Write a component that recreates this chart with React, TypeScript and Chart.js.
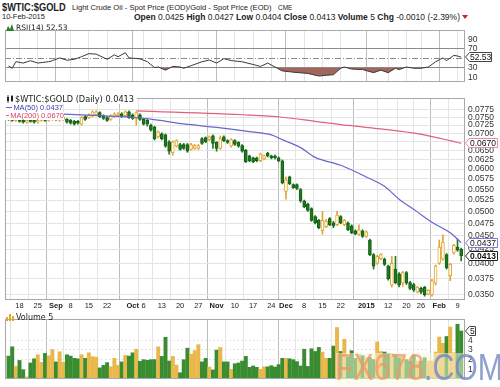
import React, { useEffect, useRef } from "react";
import { Chart, registerables } from "chart.js";

Chart.register(...registerables);

// ---------------- data ----------------
// trading-day index of the first bar (Aug 18, 2014 = day 0)
const FIRST_DAY = -3;

const OPEN = [
  0.0749, 0.0746, 0.0740, 0.0746, 0.0740, 0.0734, 0.0740, 0.0740, 0.0734, 0.0740,
  0.0746, 0.0740, 0.0743, 0.0749, 0.0740, 0.0743, 0.0743, 0.0740, 0.0737, 0.0737,
  0.0728, 0.0752, 0.0749, 0.0755, 0.0758, 0.0765, 0.0755, 0.0749, 0.0743, 0.0752,
  0.0755, 0.0761, 0.0755, 0.0768, 0.0758, 0.0746, 0.0758, 0.0743, 0.0740, 0.0725,
  0.0719, 0.0689, 0.0698, 0.0695, 0.0675, 0.0643, 0.0662, 0.0667, 0.0667, 0.0667,
  0.0653, 0.0656, 0.0656, 0.0684, 0.0687, 0.0681, 0.0692, 0.0673, 0.0656, 0.0689,
  0.0678, 0.0662, 0.0678, 0.0673, 0.0664, 0.0651, 0.0635, 0.0630, 0.0630, 0.0622,
  0.0627, 0.0643, 0.0635, 0.0635, 0.0630, 0.0622, 0.0545, 0.0580, 0.0561, 0.0561,
  0.0549, 0.0523, 0.0516, 0.0506, 0.0489, 0.0481, 0.0460, 0.0468, 0.0485, 0.0476,
  0.0472, 0.0489, 0.0472, 0.0476, 0.0470, 0.0460, 0.0453, 0.0460, 0.0449, 0.0442,
  0.0415, 0.0400, 0.0408, 0.0407, 0.0395, 0.0364, 0.0390, 0.0382, 0.0367, 0.0384,
  0.0368, 0.0365, 0.0353, 0.0359, 0.0361, 0.0350, 0.0349, 0.0367, 0.0400, 0.0407,
  0.0415, 0.0379, 0.0418, 0.0429, 0.0425,
];
const HIGH = [
  0.0752, 0.0749, 0.0749, 0.0749, 0.0743, 0.0743, 0.0743, 0.0743, 0.0743, 0.0749,
  0.0749, 0.0746, 0.0752, 0.0752, 0.0746, 0.0752, 0.0746, 0.0743, 0.0740, 0.0740,
  0.0752, 0.0755, 0.0761, 0.0771, 0.0771, 0.0768, 0.0758, 0.0752, 0.0758, 0.0765,
  0.0765, 0.0765, 0.0771, 0.0771, 0.0761, 0.0768, 0.0761, 0.0746, 0.0743, 0.0728,
  0.0722, 0.0707, 0.0701, 0.0698, 0.0678, 0.0678, 0.0681, 0.0670, 0.0670, 0.0670,
  0.0670, 0.0667, 0.0667, 0.0687, 0.0689, 0.0692, 0.0695, 0.0675, 0.0692, 0.0692,
  0.0681, 0.0684, 0.0681, 0.0675, 0.0667, 0.0653, 0.0637, 0.0632, 0.0632, 0.0643,
  0.0637, 0.0645, 0.0637, 0.0637, 0.0632, 0.0624, 0.0580, 0.0582, 0.0563, 0.0563,
  0.0552, 0.0525, 0.0518, 0.0508, 0.0491, 0.0483, 0.0500, 0.0483, 0.0487, 0.0479,
  0.0500, 0.0491, 0.0483, 0.0478, 0.0472, 0.0462, 0.0472, 0.0462, 0.0460, 0.0444,
  0.0417, 0.0414, 0.0417, 0.0409, 0.0397, 0.0412, 0.0412, 0.0384, 0.0386, 0.0386,
  0.0370, 0.0367, 0.0362, 0.0361, 0.0362, 0.0357, 0.0373, 0.0397, 0.0442, 0.0452,
  0.0417, 0.0400, 0.0434, 0.0444, 0.0427,
];
const LOW = [
  0.0740, 0.0737, 0.0737, 0.0734, 0.0731, 0.0731, 0.0734, 0.0731, 0.0731, 0.0737,
  0.0737, 0.0737, 0.0740, 0.0740, 0.0737, 0.0740, 0.0731, 0.0728, 0.0725, 0.0728,
  0.0725, 0.0740, 0.0746, 0.0752, 0.0755, 0.0749, 0.0743, 0.0737, 0.0740, 0.0749,
  0.0752, 0.0749, 0.0752, 0.0746, 0.0743, 0.0725, 0.0740, 0.0725, 0.0722, 0.0706,
  0.0680, 0.0686, 0.0680, 0.0659, 0.0640, 0.0637, 0.0659, 0.0651, 0.0653, 0.0645,
  0.0651, 0.0653, 0.0653, 0.0667, 0.0672, 0.0678, 0.0656, 0.0648, 0.0653, 0.0675,
  0.0670, 0.0659, 0.0664, 0.0659, 0.0645, 0.0617, 0.0619, 0.0617, 0.0619, 0.0619,
  0.0624, 0.0632, 0.0627, 0.0627, 0.0619, 0.0563, 0.0527, 0.0561, 0.0552, 0.0549,
  0.0520, 0.0508, 0.0500, 0.0479, 0.0474, 0.0464, 0.0453, 0.0466, 0.0470, 0.0466,
  0.0470, 0.0474, 0.0470, 0.0460, 0.0454, 0.0452, 0.0451, 0.0447, 0.0447, 0.0413,
  0.0390, 0.0398, 0.0406, 0.0396, 0.0372, 0.0361, 0.0366, 0.0361, 0.0362, 0.0365,
  0.0357, 0.0354, 0.0352, 0.0351, 0.0347, 0.0349, 0.0347, 0.0364, 0.0398, 0.0405,
  0.0390, 0.0371, 0.0416, 0.0421, 0.0404,
];
const CLOSE = [
  0.0743, 0.0740, 0.0746, 0.0737, 0.0734, 0.0740, 0.0737, 0.0734, 0.0740, 0.0746,
  0.0740, 0.0743, 0.0749, 0.0743, 0.0743, 0.0749, 0.0734, 0.0731, 0.0728, 0.0731,
  0.0749, 0.0743, 0.0758, 0.0768, 0.0768, 0.0752, 0.0746, 0.0740, 0.0755, 0.0761,
  0.0761, 0.0752, 0.0768, 0.0749, 0.0746, 0.0765, 0.0743, 0.0728, 0.0728, 0.0710,
  0.0684, 0.0704, 0.0684, 0.0662, 0.0648, 0.0675, 0.0678, 0.0653, 0.0656, 0.0648,
  0.0667, 0.0664, 0.0664, 0.0670, 0.0675, 0.0689, 0.0670, 0.0656, 0.0684, 0.0678,
  0.0673, 0.0681, 0.0667, 0.0662, 0.0648, 0.0619, 0.0622, 0.0619, 0.0622, 0.0640,
  0.0635, 0.0635, 0.0630, 0.0630, 0.0622, 0.0565, 0.0573, 0.0563, 0.0554, 0.0552,
  0.0523, 0.0510, 0.0502, 0.0481, 0.0476, 0.0466, 0.0481, 0.0479, 0.0472, 0.0470,
  0.0492, 0.0476, 0.0481, 0.0462, 0.0456, 0.0454, 0.0462, 0.0449, 0.0458, 0.0415,
  0.0395, 0.0412, 0.0415, 0.0398, 0.0374, 0.0400, 0.0368, 0.0364, 0.0384, 0.0367,
  0.0359, 0.0356, 0.0361, 0.0353, 0.0349, 0.0356, 0.0371, 0.0395, 0.0429, 0.0438,
  0.0392, 0.0398, 0.0432, 0.0423, 0.0413,
];
const VOLUME = [
  2.36, 3.32, 1.29, 1.91, 0.95, 0.21, 1.65, 2.08, 2.5, 1.71,
  2.64, 2.39, 3.03, 1.76, 2.81, 1.71, 2.5, 2.36, 2.13, 2.08,
  2.5, 2.13, 2.7, 2.3, 2.25, 1.14, 1.4, 1.68, 1.25, 2.13,
  1.4, 1.76, 2.44, 2.36, 2.7, 3.07, 1.82, 1.99, 1.93, 1.99,
  2.0, 3.32, 2.33, 4.31, 1.85, 2.33, 1.43, 0.64, 1.99, 3.18,
  2.56, 2.92, 3.54, 1.76, 2.13, 1.23, 0.92, 2.98, 3.26, 1.76,
  1.76, 1.0, 1.57, 1.65, 1.85, 2.33, 1.2, 1.34, 1.2, 1.0,
  1.25, 1.25, 1.37, 1.23, 1.48, 2.13, 2.13, 2.08, 1.99, 1.79,
  1.34, 3.07, 1.29, 3.12, 2.84, 3.26, 2.78, 2.13, 2.13, 3.4,
  5.32, 2.84, 4.1, 2.27, 2.92, 2.13, 2.56, 2.4, 2.2, 2.2,
  2.0, 3.83, 2.84, 2.78, 2.61, 2.61, 2.5, 2.2, 2.3, 2.0,
  1.85, 2.5, 1.85, 1.85, 2.2, 1.85, 1.85, 2.78, 4.34, 3.69,
  4.39, 5.38, 2.7, 5.66, 4.96,
];

const RSI_DAY = [
  -3, -2, -1, 1, 3, 5, 8, 9, 11, 13, 15, 17, 19, 21, 24, 26, 27, 29, 30, 33,
  35, 37, 38, 40, 42, 44, 45, 47, 49, 50, 52, 54, 56, 58, 61, 64, 66, 68, 70, 72,
  75, 79, 82, 84, 86, 88, 89, 91, 94, 97, 99, 101, 103, 104, 106, 108, 110, 112, 114, 116,
  117, 119, 120, 121,
];
const RSI_VALUE = [
  34, 29, 43, 40, 45, 40, 43, 45, 51, 46, 48, 53.5, 60, 59, 48, 57.5, 53.5, 62, 51, 49,
  43, 30.5, 31.6, 25, 33, 31.6, 29, 34.4, 40, 42.7, 46.5, 40, 49.3, 45.3, 42.7, 37, 32.8, 40, 31.6, 23.4,
  20.6, 18, 12.4, 14, 15.2, 29, 31.6, 27.2, 26.2, 19.6, 25, 19.6, 29, 26.2, 31.6, 29, 29, 31.6, 42.7, 51,
  45.3, 56.3, 55, 52.53,
];

const MA50_DAY = [12, 22, 31, 36, 45, 54, 63, 69, 72, 77, 81, 88, 95, 100, 104, 109, 113, 118, 121];
const MA50_VALUE = [
  0.0760, 0.0755, 0.0750, 0.0744, 0.0729, 0.0718, 0.0705, 0.0695, 0.0681, 0.0658,
  0.0631, 0.0610, 0.0580, 0.0557, 0.0527, 0.0499, 0.0477, 0.0456, 0.0437,
];
const MA200_DAY = [32, 63, 72, 81, 90, 100, 109, 118, 121];
const MA200_VALUE = [0.0771, 0.0757, 0.0750, 0.0737, 0.0724, 0.0712, 0.0699, 0.0678, 0.0670];

const DATE_TICK_DAY = [0, 5, 10, 14, 19, 24, 31, 34, 39, 44, 49, 54, 59, 64, 69, 73, 78, 83, 88, 95, 101, 106, 110, 115, 120];
const DATE_TICK_LABEL = ["18", "25", "Sep", "8", "15", "22", "Oct", "6", "13", "20", "27", "Nov", "10", "17", "24", "Dec", "8", "15", "22", "2015", "12", "20", "26", "Feb", "9"];
const MONTH_LABELS = ["Sep", "Oct", "Nov", "Dec", "2015", "Feb"];

const PRICE_TICKS = [
  0.035, 0.0375, 0.04, 0.0425, 0.045, 0.0475, 0.05, 0.0525, 0.055, 0.0575,
  0.06, 0.0625, 0.065, 0.0675, 0.07, 0.0725, 0.075, 0.0775,
];
const RSI_TICKS = [10, 30, 70, 90];
const VOLUME_TICKS = [1, 2, 3, 4];

// ---------------- axis limits / styles ----------------
const X_MIN = -3.97;
const X_MAX = 122.05;
const PRICE_MIN = 0.03414;
const PRICE_MAX = 0.08145;
const RSI_MIN = 0;
const RSI_MAX = 110;
const VOL_MAX = 6.19;

const AXIS_W = 35;
const FONT_TEXT = '"Liberation Sans", Arial, sans-serif';
const FONT_WIDE = '"DejaVu Sans", Verdana, sans-serif';
const GRID = "#e4e4e4";
const GRID_MONTH = "#bcbcbc";
const FRAME = "#a8a8a8";
const CANDLE_UP = "#e2a52e";
const CANDLE_DOWN = "#1f7b1f";
const CANDLE_DOWN_EDGE = "#155f15";
const VOL_UP = "#e8b84b";
const VOL_DOWN = "#3a8c31";
const MA50_COLOR = "#6767cc";
const MA200_COLOR = "#e2607c";

const DAYS = OPEN.map((_, k) => FIRST_DAY + k);
const isUp = (k: number) => CLOSE[k] >= OPEN[k];

function xAxis(showLabels: boolean): any {
  return {
    type: "linear",
    min: X_MIN,
    max: X_MAX,
    offset: false,
    bounds: "data",
    afterBuildTicks: (s: any) => {
      s.ticks = DATE_TICK_DAY.map((v) => ({ value: v }));
    },
    afterFit: (s: any) => {
      s.height = showLabels ? 11 : 0;
    },
    grid: {
      color: (c: any) => {
        const lbl = DATE_TICK_LABEL[c.index];
        return MONTH_LABELS.includes(lbl) ? GRID_MONTH : GRID;
      },
      drawTicks: false,
      lineWidth: 1,
    },
    border: { display: false },
    ticks: {
      display: showLabels,
      autoSkip: false,
      maxRotation: 0,
      minRotation: 0,
      padding: 1,
      color: "#222",
      callback: (_v: any, i: number) => DATE_TICK_LABEL[i],
      font: (c: any) => ({
        family: FONT_TEXT,
        size: 7.5,
        weight: MONTH_LABELS.includes(DATE_TICK_LABEL[c.index]) ? "bold" : "normal",
      }),
    },
  };
}

function yAxisBase(ticks: number[], fmt: (v: number) => string, gridColor: any, dash?: number[]): any {
  return {
    position: "right",
    bounds: "data",
    afterBuildTicks: (s: any) => {
      s.ticks = ticks.map((v) => ({ value: v }));
    },
    afterFit: (s: any) => {
      s.width = AXIS_W;
    },
    grid: { color: gridColor, drawTicks: false, lineWidth: 1 },
    border: { display: false, dash: dash || [] },
    ticks: {
      autoSkip: false,
      padding: 3,
      color: "#333",
      font: { family: FONT_TEXT, size: 8.5 },
      callback: (v: any) => fmt(Number(v)),
    },
  };
}

const framePlugin = {
  id: "frame",
  afterDraw(chart: any) {
    const { ctx, chartArea: a } = chart;
    ctx.save();
    ctx.strokeStyle = FRAME;
    ctx.lineWidth = 1;
    const l = Math.round(a.left) + 0.5;
    const r = Math.round(a.right) - 0.5;
    const t = Math.round(a.top) + 0.5;
    const b = Math.round(a.bottom) - 0.5;
    ctx.strokeRect(l, t, r - l, b - t);
    ctx.restore();
  },
};

type Tag = { value: number; text: string; color: string; bold?: boolean; width: number };

function tagPlugin(tags: Tag[]) {
  return {
    id: "tags",
    afterDraw(chart: any) {
      const { ctx } = chart;
      const ys = chart.scales.y;
      const x0 = Math.round(chart.chartArea.right);
      ctx.save();
      for (const t of tags) {
        const y = Math.round(ys.getPixelForValue(t.value));
        const h = 4.5;
        ctx.beginPath();
        ctx.moveTo(x0 + 0.5, y);
        ctx.lineTo(x0 + 4.5, y - h);
        ctx.lineTo(x0 + t.width + 0.5, y - h);
        ctx.lineTo(x0 + t.width + 0.5, y + h);
        ctx.lineTo(x0 + 4.5, y + h);
        ctx.closePath();
        ctx.fillStyle = "#ffffff";
        ctx.fill();
        ctx.strokeStyle = t.color;
        ctx.lineWidth = 1;
        ctx.stroke();
        ctx.fillStyle = "#111";
        ctx.font = `${t.bold ? "bold " : ""}8.5px ${FONT_TEXT}`;
        ctx.textAlign = "left";
        ctx.textBaseline = "middle";
        ctx.fillText(t.text, x0 + 5, y + 0.5);
      }
      ctx.restore();
    },
  };
}

const rsiMidPlugin = {
  id: "rsiMid",
  beforeDatasetsDraw(chart: any) {
    const { ctx, chartArea: a } = chart;
    const y = Math.round(chart.scales.y.getPixelForValue(50)) + 0.5;
    ctx.save();
    ctx.strokeStyle = "#8a8a8a";
    ctx.lineWidth = 1;
    ctx.setLineDash([6, 2, 1, 2]);
    ctx.beginPath();
    ctx.moveTo(a.left, y);
    ctx.lineTo(a.right, y);
    ctx.stroke();
    ctx.restore();
  },
};

const baseOptions = {
  responsive: false,
  maintainAspectRatio: false,
  animation: false as const,
  events: [] as any[],
  plugins: { legend: { display: false }, tooltip: { enabled: false } },
};

export default function App() {
  const rsiRef = useRef<HTMLCanvasElement | null>(null);
  const priceRef = useRef<HTMLCanvasElement | null>(null);
  const volRef = useRef<HTMLCanvasElement | null>(null);

  useEffect(() => {
    const charts: Chart[] = [];
    const lastRsi = RSI_VALUE[RSI_VALUE.length - 1];
    const lastK = CLOSE.length - 1;

    charts.push(
      new Chart(rsiRef.current as HTMLCanvasElement, {
        type: "line",
        data: {
          datasets: [
            {
              data: RSI_DAY.map((d, k) => ({ x: d, y: RSI_VALUE[k] })),
              borderColor: "#3a3a3a",
              borderWidth: 1,
              pointRadius: 0,
              tension: 0,
              fill: { target: { value: 30 }, above: "rgba(0,0,0,0)", below: "#a3665e" },
            } as any,
          ],
        },
        options: {
          ...baseOptions,
          layout: { padding: { left: 5, right: 0, top: 0, bottom: 0 } },
          scales: {
            x: xAxis(false),
            y: {
              type: "linear",
              min: RSI_MIN,
              max: RSI_MAX,
              ...yAxisBase(RSI_TICKS, (v) => String(v), (c: any) =>
                c.tick && (c.tick.value === 70 || c.tick.value === 30) ? "#8c8c8c" : "rgba(0,0,0,0)"
              ),
            },
          },
        } as any,
        plugins: [
          rsiMidPlugin,
          framePlugin,
          tagPlugin([{ value: lastRsi, text: lastRsi.toFixed(2), color: "#444", width: 26 }]),
        ],
      })
    );

    charts.push(
      new Chart(priceRef.current as HTMLCanvasElement, {
        type: "bar",
        data: {
          datasets: [
            {
              type: "line",
              data: MA50_DAY.map((d, k) => ({ x: d, y: MA50_VALUE[k] })),
              borderColor: MA50_COLOR,
              borderWidth: 1.2,
              pointRadius: 0,
              cubicInterpolationMode: "monotone",
            },
            {
              type: "line",
              data: MA200_DAY.map((d, k) => ({ x: d, y: MA200_VALUE[k] })),
              borderColor: MA200_COLOR,
              borderWidth: 1.2,
              pointRadius: 0,
              cubicInterpolationMode: "monotone",
            },
            {
              type: "bar",
              data: DAYS.map((d, k) => ({ x: d, y: [OPEN[k], CLOSE[k]] })),
              backgroundColor: DAYS.map((_, k) => (isUp(k) ? "#ffffff" : CANDLE_DOWN)),
              borderColor: DAYS.map((_, k) => (isUp(k) ? CANDLE_UP : CANDLE_DOWN_EDGE)),
              borderWidth: 1,
              borderSkipped: false,
              barThickness: 3,
              grouped: false,
              minBarLength: 1,
            },
            {
              type: "bar",
              data: DAYS.map((d, k) => ({ x: d, y: [LOW[k], HIGH[k]] })),
              backgroundColor: DAYS.map((_, k) => (isUp(k) ? CANDLE_UP : CANDLE_DOWN)),
              borderWidth: 0,
              barThickness: 1,
              grouped: false,
            },
          ] as any,
        },
        options: {
          ...baseOptions,
          layout: { padding: { left: 5, right: 0, top: 0, bottom: 0 } },
          scales: {
            x: xAxis(true),
            y: {
              type: "logarithmic",
              min: PRICE_MIN,
              max: PRICE_MAX,
              ...yAxisBase(PRICE_TICKS, (v) => v.toFixed(4), GRID),
            },
          },
        } as any,
        plugins: [
          framePlugin,
          tagPlugin([
            { value: MA200_VALUE[MA200_VALUE.length - 1], text: MA200_VALUE[MA200_VALUE.length - 1].toFixed(4), color: "#e88aa0", width: 32 },
            { value: MA50_VALUE[MA50_VALUE.length - 1], text: MA50_VALUE[MA50_VALUE.length - 1].toFixed(4), color: "#7a7ad6", width: 32 },
            { value: CLOSE[lastK], text: CLOSE[lastK].toFixed(4), color: "#222", bold: true, width: 32 },
          ]),
        ],
      })
    );

    charts.push(
      new Chart(volRef.current as HTMLCanvasElement, {
        type: "bar",
        data: {
          datasets: [
            {
              data: DAYS.map((d, k) => ({ x: d, y: VOLUME[k] })),
              backgroundColor: DAYS.map((_, k) => (isUp(k) ? VOL_UP : VOL_DOWN)),
              borderWidth: 0,
              barThickness: 3.3,
              grouped: false,
            } as any,
          ],
        },
        options: {
          ...baseOptions,
          layout: { padding: { left: 5, right: 0, top: 0, bottom: 3 } },
          scales: {
            x: xAxis(false),
            y: {
              type: "linear",
              min: 0,
              max: VOL_MAX,
              ...yAxisBase(VOLUME_TICKS, (v) => String(v), GRID, [2, 2]),
            },
          },
        } as any,
        plugins: [
          framePlugin,
          tagPlugin([{ value: VOLUME[lastK], text: String(Math.round(VOLUME[lastK])), color: "#444", width: 10 }]),
        ],
      })
    );

    return () => charts.forEach((c) => c.destroy());
  }, []);

  const abs = (o: any): any => ({ position: "absolute", whiteSpace: "nowrap", ...o });
  const lastK = CLOSE.length - 1;

  return (
    <div
      style={{
        position: "absolute",
        left: 0,
        top: 0,
        width: 500,
        height: 387,
        background: "#ffffff",
        overflow: "hidden",
        fontFamily: FONT_TEXT,
        color: "#222",
      }}
    >
      {/* header */}
      <div style={abs({ left: 2, top: 1, fontSize: 11, lineHeight: "12px", fontWeight: "bold", transform: "scaleX(0.84)", transformOrigin: "left center" })}>
        $WTIC:$GOLD
      </div>
      <div style={abs({ left: 72, top: 2, fontSize: 7.6, lineHeight: "11px" })}>
        Light Crude Oil - Spot Price (EOD)/Gold - Spot Price (EOD)
      </div>
      <div style={abs({ left: 278, top: 3, fontSize: 6.5, lineHeight: "10px" })}>CME</div>
      <div style={abs({ left: 2, top: 12, fontSize: 7.5, lineHeight: "10px" })}>10-Feb-2015</div>
      <div style={abs({ right: 40, top: 12, fontSize: 8.5, lineHeight: "10px" })}>
        <b>Open</b> {OPEN[lastK].toFixed(4)} <b>High</b> {HIGH[lastK].toFixed(4)} <b>Low</b> {LOW[lastK].toFixed(4)}{" "}
        <b>Close</b> {CLOSE[lastK].toFixed(4)} <b>Volume</b> {Math.round(VOLUME[lastK])} <b>Chg</b> -0.0010 (-2.39%)
      </div>
      <div style={abs({ left: 462, top: 15, width: 0, height: 0, borderLeft: "3px solid transparent", borderRight: "3px solid transparent", borderTop: "4px solid #d02020" })} />

      <canvas ref={rsiRef} width={500} height={68} style={{ position: "absolute", left: 0, top: 22 }} />
      <canvas ref={priceRef} width={500} height={221} style={{ position: "absolute", left: 0, top: 90 }} />
      <canvas ref={volRef} width={500} height={76} style={{ position: "absolute", left: 0, top: 311 }} />

      {/* RSI legend */}
      <div style={abs({ left: 6, top: 22.5, height: 9, display: "flex", alignItems: "center" })}>
        <svg width="8" height="7" style={{ marginRight: 2 }}>
          <polygon points="0,7 2,2 4,5 6,0 8,7" fill="#2d7d2d" />
        </svg>
        <span style={{ fontFamily: FONT_WIDE, fontSize: 7.5, lineHeight: "9px", color: "#222" }}>
          RSI(14) {RSI_VALUE[RSI_VALUE.length - 1].toFixed(2)}
        </span>
      </div>

      {/* price legend */}
      <div style={abs({ left: 5, top: 94.5, width: 132, height: 9, background: "#fff", display: "flex", alignItems: "center" })}>
        <svg width="8" height="8" style={{ marginLeft: 1, marginRight: 1 }}>
          <rect x="1" y="2" width="2" height="4" fill="#222" />
          <rect x="5" y="1" width="2" height="5" fill="#222" />
          <line x1="2" y1="0" x2="2" y2="8" stroke="#222" strokeWidth="0.8" />
          <line x1="6" y1="0" x2="6" y2="7" stroke="#222" strokeWidth="0.8" />
        </svg>
        <span style={{ fontFamily: FONT_WIDE, fontSize: 8.2, lineHeight: "9px", color: "#222" }}>
          $WTIC:$GOLD (Daily) {CLOSE[lastK].toFixed(4)}
        </span>
      </div>
      <div style={abs({ left: 5, top: 103.5, width: 58, height: 8, background: "#fff", display: "flex", alignItems: "center" })}>
        <div style={{ width: 7, height: 1.5, background: MA50_COLOR, marginLeft: 1, marginRight: 1 }} />
        <span style={{ fontSize: 7.5, lineHeight: "8px", color: "#3c3cb0" }}>
          MA(50) {MA50_VALUE[MA50_VALUE.length - 1].toFixed(4)}
        </span>
      </div>
      <div style={abs({ left: 5, top: 111.5, width: 59, height: 8, background: "#fff", display: "flex", alignItems: "center" })}>
        <div style={{ width: 7, height: 1.5, background: MA200_COLOR, marginLeft: 1, marginRight: 1 }} />
        <span style={{ fontSize: 7.5, lineHeight: "8px", color: "#d8405c" }}>
          MA(200) {MA200_VALUE[MA200_VALUE.length - 1].toFixed(4)}
        </span>
      </div>

      {/* volume legend */}
      <div style={abs({ left: 6, top: 312.5, height: 9, display: "flex", alignItems: "center" })}>
        <svg width="8" height="7" style={{ marginRight: 2 }}>
          <rect x="0" y="3" width="2" height="4" fill="#e0a830" />
          <rect x="3" y="0" width="2" height="7" fill="#e0a830" />
          <rect x="6" y="2" width="2" height="5" fill="#e0a830" />
        </svg>
        <span style={{ fontFamily: FONT_WIDE, fontSize: 8, lineHeight: "9px", color: "#222" }}>
          Volume {Math.round(VOLUME[lastK])}
        </span>
      </div>

      {/* watermark */}
      <div style={abs({ left: 336, top: 353, width: 127, height: 32, background: "rgba(248,250,225,0.5)" })} />
      <div
        style={abs({
          left: 335,
          top: 348,
          fontSize: 36,
          lineHeight: "40px",
          transform: "scaleX(0.84)",
          transformOrigin: "left center",
        })}
      >
        <span style={{ color: "rgba(242,150,100,0.75)" }}>FX678</span>
        <span style={{ color: "rgba(115,135,195,0.8)" }}>.COM</span>
      </div>
    </div>
  );
}
